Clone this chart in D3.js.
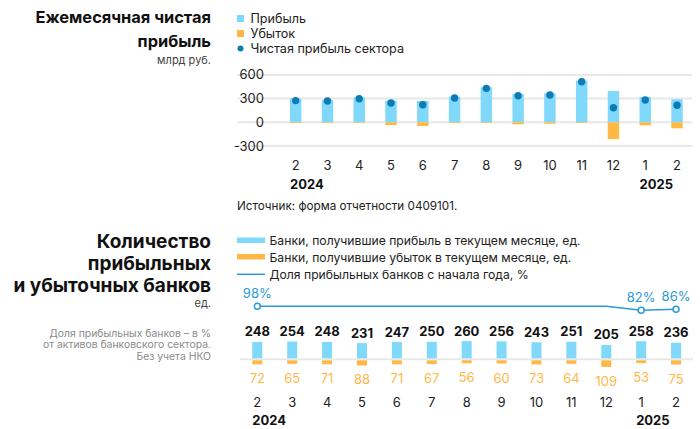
<!DOCTYPE html>
<html>
<head>
<meta charset="utf-8">
<script src="https://cdn.jsdelivr.net/npm/d3@7"></script>
<style>
    body { margin: 0; background: #fff; }
    svg { display: block; font-family: Inter, 'Open Sans', sans-serif; }
    .title { font-size: 16.4px; font-weight: 700; fill: #111; }
    .title-big { font-size: 19px; }
    .unit { font-size: 11px; fill: #444; }
    .note { font-size: 10.4px; fill: #8a8a8a; }
    .tick { font-size: 13px; fill: #222; }
    .year { font-size: 13px; font-weight: 700; fill: #111; }
    .legend { font-size: 12.2px; fill: #222; }
</style>
</head>
<body>
<svg id="chart" width="700" height="429"></svg>
<script>
    // top chart: monthly net profit, bln rub
    var months = ['2', '3', '4', '5', '6', '7', '8', '9', '10', '11', '12', '1', '2'];
    var years = [{label: '2024', at: 0}, {label: '2025', at: 11}];
    var profit = [303, 282, 316, 274, 270, 324, 443, 358, 367, 527, 396, 320, 291];
    var loss = [-9, -9, -9, -34, -47, -9, -9, -25, -18, -9, -213, -38, -76];
    var netProfit = [275, 270, 299, 244, 223, 308, 430, 337, 346, 514, 185, 282, 215];
    var profitTicks = [600, 300, 0, -300];

    // bottom chart: number of profitable / loss-making banks
    var banksProfit = [248, 254, 248, 231, 247, 250, 260, 256, 243, 251, 205, 258, 236];
    var banksLoss = [72, 65, 71, 88, 71, 67, 56, 60, 73, 64, 109, 53, 75];
    var shareProfit = [98, 98, 98, 98, 98, 98, 98, 98, 98, 98, 98, 82, 86];
    var shareLabeled = [0, 11, 12];

    var blue = '#80d8fb', orange = '#ffb845', dark = '#0b7db4', line = '#2b9bd6', grid = '#e8e8e8';
    var svg = d3.select('#chart');
    var idx = d3.range(months.length);

    function titleLines(lines, x, y0, dy, cls) {
        lines.forEach(function (t, i) {
            svg.append('text').attr('x', x).attr('y', y0 + i * dy)
                .attr('text-anchor', 'end').attr('class', cls).text(t);
        });
    }

    // left titles
    titleLines(['Ежемесячная чистая', 'прибыль'], 211, 23, 24, 'title');
    svg.append('text').attr('x', 211).attr('y', 64).attr('text-anchor', 'end')
        .attr('class', 'unit').text('млрд руб.');
    titleLines(['Количество', 'прибыльных', 'и убыточных банков'], 211, 248, 21.8, 'title title-big');
    svg.append('text').attr('x', 211).attr('y', 307).attr('text-anchor', 'end')
        .attr('class', 'unit').text('ед.');
    ['Доля прибыльных банков – в %', 'от активов банковского сектора.', 'Без учета НКО'].forEach(function (t, i) {
        svg.append('text').attr('x', 211).attr('y', 337 + i * 11.3).attr('text-anchor', 'end')
            .attr('class', 'note').text(t);
    });

    // ---- top chart ----
    var x1 = d3.scaleBand().domain(idx).range([279.8, 692.9]).paddingInner(0.64).paddingOuter(0.32);
    var y1 = d3.scaleLinear().domain([-300, 600]).range([146, 74.9]);

    //legend
    svg.append('rect').attr('x', 237).attr('y', 15).attr('width', 7).attr('height', 7).attr('fill', blue);
    svg.append('rect').attr('x', 237).attr('y', 30).attr('width', 7).attr('height', 7).attr('fill', orange);
    svg.append('circle').attr('cx', 240.5).attr('cy', 48.5).attr('r', 3).attr('fill', dark);
    ['Прибыль', 'Убыток', 'Чистая прибыль сектора'].forEach(function (t, i) {
        svg.append('text').attr('x', 250.5).attr('y', 23 + i * 15).attr('class', 'legend')
            .style('font-size', '12.6px').text(t);
    });

    //grid + y ticks
    profitTicks.forEach(function (t) {
        svg.append('line').attr('x1', 237).attr('x2', 692).attr('y1', y1(t)).attr('y2', y1(t))
            .attr('stroke', grid).attr('stroke-width', 2);
        svg.append('text').attr('x', 264).attr('y', y1(t) + 4.5).attr('text-anchor', 'end')
            .attr('class', 'tick').text(t);
    });

    svg.append('g').selectAll('rect').data(idx).join('rect')
        .attr('x', function (i) { return x1(i); })
        .attr('width', x1.bandwidth())
        .attr('y', function (i) { return y1(profit[i]); })
        .attr('height', function (i) { return y1(0) - y1(profit[i]); })
        .attr('fill', blue);
    svg.append('g').selectAll('rect').data(idx).join('rect')
        .attr('x', function (i) { return x1(i); })
        .attr('width', x1.bandwidth())
        .attr('y', y1(0))
        .attr('height', function (i) { return y1(loss[i]) - y1(0); })
        .attr('fill', orange);
    svg.append('g').selectAll('circle').data(idx).join('circle')
        .attr('cx', function (i) { return x1(i) + x1.bandwidth() / 2; })
        .attr('cy', function (i) { return y1(netProfit[i]); })
        .attr('r', 3.7)
        .attr('fill', dark);

    //x labels
    idx.forEach(function (i) {
        svg.append('text').attr('x', x1(i) + x1.bandwidth() / 2).attr('y', 169.5)
            .attr('text-anchor', 'middle').attr('class', 'tick').text(months[i]);
    });
    years.forEach(function (d) {
        svg.append('text').attr('x', x1(d.at)).attr('y', 189).attr('class', 'year').text(d.label);
    });

    svg.append('text').attr('x', 237).attr('y', 210).attr('class', 'legend')
        .style('font-size', '11.7px').text('Источник: форма отчетности 0409101.');

    // ---- bottom chart ----
    var x2 = d3.scaleBand().domain(idx).range([239.85, 693.5]).paddingInner(0.713).paddingOuter(0.3565);
    var y2 = d3.scaleLinear().domain([-100, 250]).range([366.3, 341.8]);
    var yShare = d3.scaleLinear().domain([80, 100]).range([310.8, 305.8]);

    //legend
    svg.append('rect').attr('x', 237).attr('y', 237.5).attr('width', 28).attr('height', 5.5).attr('fill', blue);
    svg.append('rect').attr('x', 237).attr('y', 254).attr('width', 28).attr('height', 5.5).attr('fill', orange);
    svg.append('line').attr('x1', 237).attr('x2', 265).attr('y1', 274.3).attr('y2', 274.3)
        .attr('stroke', line).attr('stroke-width', 1.5);
    ['Банки, получившие прибыль в текущем месяце, ед.',
     'Банки, получившие убыток в текущем месяце, ед.',
     'Доля прибыльных банков с начала года, %'].forEach(function (t, i) {
        svg.append('text').attr('x', 269.5).attr('y', 245 + i * 16.8).attr('class', 'legend').text(t);
    });

    svg.append('line').attr('x1', 240).attr('x2', 693).attr('y1', y2(0)).attr('y2', y2(0))
        .attr('stroke', grid).attr('stroke-width', 2);

    var cx2 = function (i) { return x2(i) + x2.bandwidth() / 2; };

    svg.append('g').selectAll('rect').data(idx).join('rect')
        .attr('x', function (i) { return x2(i); })
        .attr('width', x2.bandwidth())
        .attr('y', function (i) { return y2(banksProfit[i]); })
        .attr('height', function (i) { return y2(0) - 1 - y2(banksProfit[i]); })
        .attr('fill', blue);
    svg.append('g').selectAll('rect').data(idx).join('rect')
        .attr('x', function (i) { return x2(i); })
        .attr('width', x2.bandwidth())
        .attr('y', y2(0) + 1)
        .attr('height', function (i) { return y2(-banksLoss[i]) - y2(0) - 1; })
        .attr('fill', orange);

    //bar labels
    idx.forEach(function (i) {
        svg.append('text').attr('x', cx2(i)).attr('y', y2(banksProfit[i]) - 5.5)
            .attr('text-anchor', 'middle').attr('class', 'tick')
            .style('font-weight', 700).style('fill', '#111').text(banksProfit[i]);
        svg.append('text').attr('x', cx2(i)).attr('y', y2(-banksLoss[i]) + 19)
            .attr('text-anchor', 'middle').attr('class', 'tick')
            .style('fill', orange).text(banksLoss[i]);
    });

    //share line
    svg.append('path').datum(idx)
        .attr('d', d3.line().x(cx2).y(function (i) { return yShare(shareProfit[i]); }))
        .attr('fill', 'none').attr('stroke', line).attr('stroke-width', 1.5);
    shareLabeled.forEach(function (i) {
        svg.append('circle').attr('cx', cx2(i)).attr('cy', yShare(shareProfit[i])).attr('r', 3)
            .attr('fill', '#fff').attr('stroke', line).attr('stroke-width', 1.5);
        svg.append('text').attr('x', cx2(i)).attr('y', yShare(shareProfit[i]) - 8.5)
            .attr('text-anchor', 'middle').attr('class', 'tick')
            .style('fill', line).text(shareProfit[i] + '%');
    });

    //x labels
    idx.forEach(function (i) {
        svg.append('text').attr('x', cx2(i)).attr('y', 406.5)
            .attr('text-anchor', 'middle').attr('class', 'tick').text(months[i]);
    });
    years.forEach(function (d) {
        svg.append('text').attr('x', x2(d.at)).attr('y', 425).attr('class', 'year').text(d.label);
    });
</script>
</body>
</html>
